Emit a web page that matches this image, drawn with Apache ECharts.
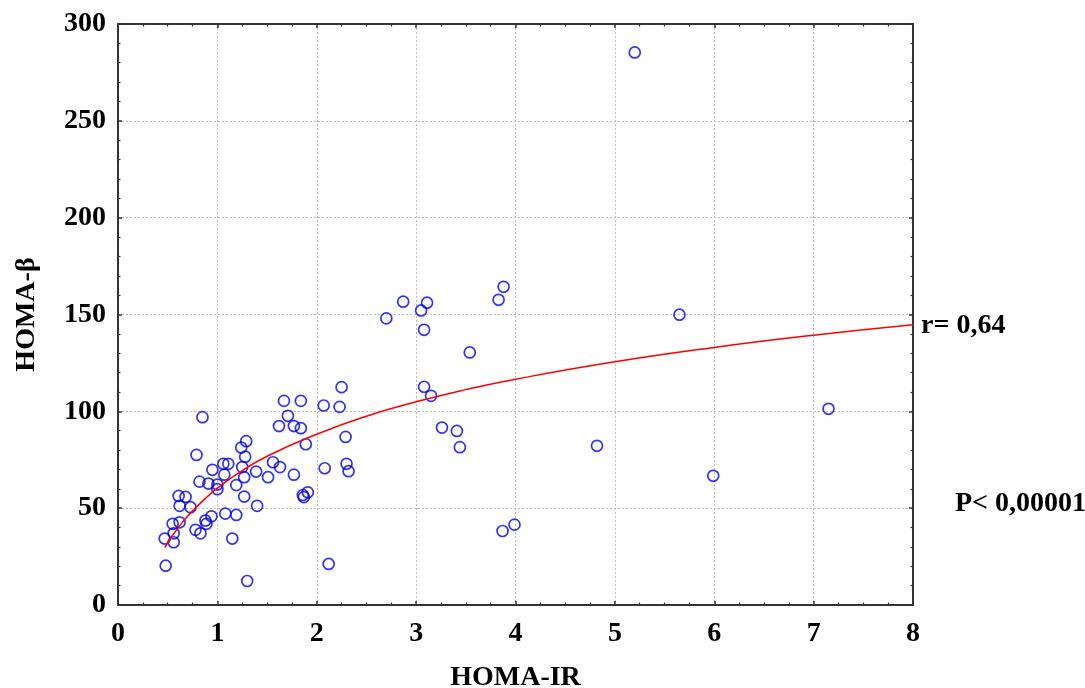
<!DOCTYPE html>
<html>
<head>
<meta charset="utf-8">
<script src="https://cdn.jsdelivr.net/npm/echarts@6/dist/echarts.min.js"></script>
<style>
html,body{margin:0;padding:0;background:#fff;}
#chart{width:1085px;height:688px;}
</style>
</head>
<body>
<div id="chart"></div>
<script>
// HOMA-IR values of each subject
var homaIR = [
  5.20, 5.65, 7.15, 4.82, 5.99, 3.87, 3.99, 3.88, 3.83, 2.87,
  3.11, 3.05, 2.70, 3.08, 3.54, 3.08, 3.15, 3.26, 3.41, 3.44,
  2.25, 1.67, 1.84, 2.07, 2.23, 0.85, 1.71, 1.62, 1.77, 1.84,
  2.29, 1.29, 1.24, 1.89, 0.79, 1.28, 1.06, 1.11, 1.25, 0.95,
  1.07, 1.39, 1.56, 1.63, 1.77, 2.08, 2.30, 2.32, 1.27, 1.51,
  0.82, 0.91, 1.00, 1.00, 1.19, 1.27, 1.86, 1.91, 1.87, 0.61,
  0.68, 0.62, 0.73, 1.40, 1.08, 1.19, 0.94, 0.88, 0.89, 0.55,
  0.62, 0.78, 0.83, 0.56, 0.47, 0.56, 1.15, 2.12, 0.48, 1.30
];
// HOMA-beta values of each subject
var homaBeta = [
  285.3, 149.9, 101.3, 82.2, 66.7, 38.2, 41.5, 164.3, 157.6, 156.6,
  156.1, 152.1, 148.0, 142.1, 130.4, 112.7, 108.0, 91.6, 89.9, 81.5,
  112.5, 105.4, 105.4, 103.0, 102.3, 97.0, 97.7, 92.4, 92.4, 91.3,
  86.8, 84.6, 81.3, 83.0, 77.5, 76.6, 72.9, 72.9, 71.2, 69.8,
  67.3, 68.9, 73.7, 71.2, 67.3, 70.6, 72.9, 69.1, 66.0, 66.0,
  63.7, 62.7, 62.2, 59.8, 61.9, 56.0, 56.8, 58.2, 55.7, 56.3,
  55.8, 51.2, 50.5, 51.2, 47.2, 46.5, 45.8, 43.6, 41.9, 41.9,
  42.7, 38.8, 37.0, 37.0, 34.3, 32.4, 34.3, 21.2, 20.3, 12.4
];
// fitted curve
var fitX = [0.47, 0.55, 0.65, 0.75, 0.9, 1, 1.2, 1.5, 2, 2.5, 3, 3.5, 4, 5, 6, 7, 8];
var fitY = [29.6, 36.0, 42.8, 48.6, 56.0, 60.3, 67.7, 76.8, 88.2, 97.5, 104.9, 111.2, 116.6, 125.6, 133.0, 139.3, 144.7];
var xTicks = [0, 1, 2, 3, 4, 5, 6, 7, 8];
var yTicks = [0, 50, 100, 150, 200, 250, 300];
var annotR = 'r= 0,64';
var annotP = 'P< 0,00001';

var pts = homaIR.map(function (x, i) { return [x, homaBeta[i]]; });
var fit = fitX.map(function (x, i) { return [x, fitY[i]]; });

var FONT = "'Liberation Serif','Times New Roman',serif";
var AX = '#333333';

function xAx(pos, showLabel) {
  return {
    type: 'value', position: pos, min: xTicks[0], max: xTicks[xTicks.length - 1], interval: 1,
    name: showLabel ? 'HOMA-IR' : '', nameLocation: 'middle', nameGap: 59,
    nameTextStyle: {fontFamily: FONT, fontWeight: 'bold', fontSize: 28, color: '#000'},
    axisLine: {show: true, onZero: false, lineStyle: {color: AX, width: 2}},
    axisTick: {show: true, inside: true, length: 4, lineStyle: {color: AX, width: 1.5}},
    minorTick: {show: true, splitNumber: 4, length: 2.5, lineStyle: {color: AX, width: 1.2}},
    axisLabel: {show: showLabel, margin: 15, fontFamily: FONT, fontWeight: 'bold', fontSize: 28, color: '#000'},
    splitLine: {show: showLabel, lineStyle: {color: '#bdbdbd', type: [2, 2], width: 1}}
  };
}
function yAx(pos, showLabel) {
  return {
    type: 'value', position: pos, min: yTicks[0], max: yTicks[yTicks.length - 1], interval: 50,
    name: showLabel ? 'HOMA-β' : '', nameLocation: 'middle', nameGap: 77,
    nameTextStyle: {fontFamily: FONT, fontWeight: 'bold', fontSize: 28, color: '#000'},
    axisLine: {show: true, onZero: false, lineStyle: {color: AX, width: 2}},
    axisTick: {show: true, inside: true, length: 4, lineStyle: {color: AX, width: 1.5}},
    minorTick: {show: true, splitNumber: 5, length: 2.5, lineStyle: {color: AX, width: 1.2}},
    axisLabel: {show: showLabel, margin: 12, fontFamily: FONT, fontWeight: 'bold', fontSize: 28, color: '#000'},
    splitLine: {show: showLabel, lineStyle: {color: '#bdbdbd', type: [2, 2], width: 1}}
  };
}

var chart = echarts.init(document.getElementById('chart'), null, {renderer: 'canvas'});
chart.setOption({
  animation: false,
  backgroundColor: '#fff',
  grid: {left: 118, right: 172, top: 24, bottom: 83, containLabel: false, outerBoundsMode: 'none'},
  xAxis: [xAx('bottom', true), xAx('top', false)],
  yAxis: [yAx('left', true), yAx('right', false)],
  series: [
    {
      type: 'scatter', data: pts, xAxisIndex: 0, yAxisIndex: 0,
      symbol: 'circle', symbolSize: 11,
      itemStyle: {color: 'rgba(255,255,255,0)', borderColor: '#0000f0', borderWidth: 1.7},
      z: 3
    },
    {
      type: 'line', data: fit, xAxisIndex: 0, yAxisIndex: 0,
      smooth: true, showSymbol: false, symbol: 'none',
      lineStyle: {color: '#ff0000', width: 1.5},
      z: 4
    }
  ],
  graphic: [
    {type: 'text', left: 921, top: 312, style: {text: annotR, font: 'bold 28px ' + FONT, fill: '#000'}},
    {type: 'text', left: 955, top: 490, style: {text: annotP, font: 'bold 28px ' + FONT, fill: '#000'}}
  ]
});
</script>
</body>
</html>
